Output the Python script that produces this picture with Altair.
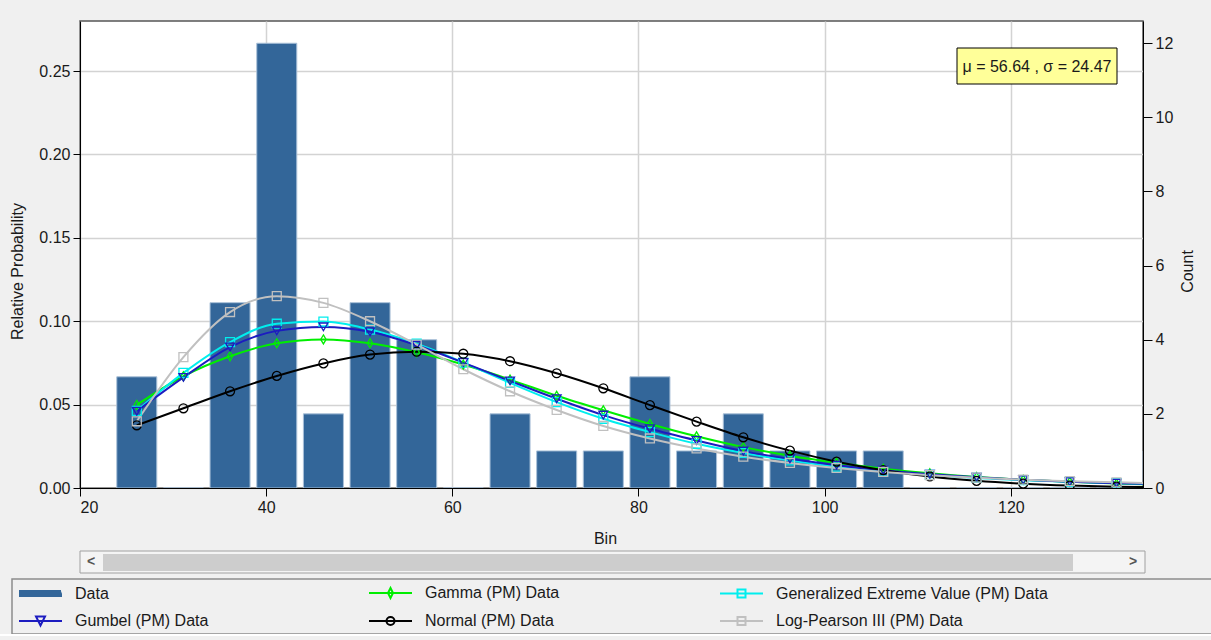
import altair as alt
import pandas as pd

# ---- histogram: bin centres (5-unit bins) and observation counts -------------
bin_centers = [26.10, 31.11, 36.12, 41.14, 46.15, 51.16, 56.17, 61.18, 66.20,
               71.21, 76.22, 81.23, 86.24, 91.26, 96.27, 101.28, 106.29, 111.30,
               116.32, 121.33, 126.34, 131.35, 136.36]
counts = [3, 0, 5, 12, 2, 5, 4, 0, 2, 1, 1, 3, 1, 2, 1, 1, 1, 0, 0, 0, 0, 0, 1]

# ---- fitted distributions (relative probability per bin) ---------------------
gamma_pm = [0.0498, 0.0670, 0.0790, 0.0868, 0.0891, 0.0868, 0.0814, 0.0740,
            0.0650, 0.0553, 0.0466, 0.0384, 0.0310, 0.0245, 0.0193, 0.0151,
            0.0116, 0.0088, 0.0066, 0.0050, 0.0037, 0.0027, 0.0020]
gev_pm = [0.0462, 0.0690, 0.0875, 0.0985, 0.0998, 0.0950, 0.0865, 0.0752,
          0.0630, 0.0515, 0.0415, 0.0335, 0.0265, 0.0210, 0.0165, 0.0128,
          0.0100, 0.0078, 0.0060, 0.0047, 0.0037, 0.0029, 0.0023]
gumbel_pm = [0.0460, 0.0663, 0.0845, 0.0942, 0.0966, 0.0937, 0.0856, 0.0752,
             0.0642, 0.0535, 0.0437, 0.0355, 0.0285, 0.0221, 0.0175, 0.0137,
             0.0106, 0.0082, 0.0064, 0.0049, 0.0038, 0.0029, 0.0023]
normal_pm = [0.0376, 0.0478, 0.0580, 0.0672, 0.0747, 0.0800, 0.0817, 0.0805,
             0.0760, 0.0688, 0.0598, 0.0497, 0.0398, 0.0304, 0.0224, 0.0158,
             0.0107, 0.0069, 0.0043, 0.0026, 0.0015, 0.0008, 0.0004]
lp3_pm = [0.0400, 0.0785, 0.1055, 0.1150, 0.1110, 0.1000, 0.0860, 0.0712,
          0.0580, 0.0468, 0.0372, 0.0297, 0.0237, 0.0188, 0.0150, 0.0120,
          0.0096, 0.0077, 0.0062, 0.0050, 0.0041, 0.0034, 0.0028]

series_names = ["Gamma (PM) Data", "Generalized Extreme Value (PM) Data",
                "Gumbel (PM) Data", "Normal (PM) Data", "Log-Pearson III (PM) Data"]
series_values = [gamma_pm, gev_pm, gumbel_pm, normal_pm, lp3_pm]

mu, sigma = 56.64, 24.47

x_ticks = [20, 40, 60, 80, 100, 120]
prob_ticks = [0.0, 0.05, 0.10, 0.15, 0.20, 0.25]
count_ticks = [0, 2, 4, 6, 8, 10, 12]

# ---- styling -------------------------------------------------------------------
FONT = "Liberation Sans"
TXT = "#1a1a1a"
BAR_COLOR = "#336699"
series_colors = ["#00ee00", "#00eeee", "#1c1cc0", "#000000", "#c0c0c0"]
diamond = "M0,-1L0.6,0L0,1L-0.6,0Z"
series_shapes = [diamond, "square", "triangle-down", "circle", "square"]

# legend glyphs: a short line with the marker in its middle (unit = 5 px)
LINE = "M-8.2,0H0.4"
legend_names = ["Data", "Gamma (PM) Data", "Generalized Extreme Value (PM) Data",
                "Gumbel (PM) Data", "Normal (PM) Data", "Log-Pearson III (PM) Data"]
legend_colors = [BAR_COLOR, "#00ee00", "#00eeee", "#1c1cc0", "#000000", "#c0c0c0"]
legend_paths = [
    "M-8.2,-0.5H0.2M-8.2,-0.17H0.3M-8.2,0.17H0.4M-8.2,0.5H0.4",
    LINE + "M-3.9,-1L-3.4,0L-3.9,1L-4.4,0Z",
    LINE + "M-4.7,-0.8H-3.1V0.8H-4.7Z",
    LINE + "M-4.8,-0.9H-3.0L-3.9,0.9Z",
    LINE + "M-3.1,0A0.8,0.8,0,1,1,-4.7,0A0.8,0.8,0,1,1,-3.1,0Z",
    LINE + "M-4.7,-0.8H-3.1V0.8H-4.7Z",
]

W, H = 1063, 467
half_width = 2.15

# ---- tables ------------------------------------------------------------------
bars_df = pd.DataFrame({
    "lo": [c - half_width for c in bin_centers],
    "hi": [c + half_width for c in bin_centers],
    "count": counts,
})
curves_df = pd.DataFrame([
    {"bin": b, "prob": p, "series": name}
    for name, vals in zip(series_names, series_values)
    for b, p in zip(bin_centers, vals)
])
legend_df = pd.DataFrame({"entry": legend_names})
one = pd.DataFrame({"k": [0]})

x_scale = alt.Scale(domain=[20, 134.2], nice=False, zero=False)
x_axis = alt.Axis(values=x_ticks, title="Bin", grid=True, tickSize=8,
                  labelPadding=3, titleX=525, titleY=50,
                  titleBaseline="middle", titleAlign="center")
prob_scale = alt.Scale(domain=[0, 0.28], nice=False)
color_scale = alt.Scale(domain=series_names, range=series_colors)


def xq(field):
    return alt.X(f"{field}:Q", scale=x_scale, axis=x_axis)


bars = alt.Chart(bars_df).mark_bar(
    color=BAR_COLOR, stroke="#a9c0d8", strokeWidth=1, clip=True
).encode(
    x=xq("lo"),
    x2="hi:Q",
    y=alt.Y("count:Q", scale=alt.Scale(domain=[0, 12.6], nice=False),
            axis=alt.Axis(orient="right", values=count_ticks, grid=False,
                          title="Count", tickSize=9, labelPadding=3,
                          titleAngle=270, titleX=44, titleY=250,
                          titleAlign="center", titleBaseline="middle")),
    y2=alt.datum(0),
)

lines = alt.Chart(curves_df).mark_line(
    strokeWidth=2, interpolate="monotone", clip=True
).encode(
    x=xq("bin"),
    y=alt.Y("prob:Q", scale=prob_scale,
            axis=alt.Axis(values=prob_ticks, format=".2f", grid=True,
                          title="Relative Probability", tickSize=7,
                          labelPadding=3, titleAngle=270, titleX=-63,
                          titleY=250, titleAlign="center",
                          titleBaseline="middle")),
    color=alt.Color("series:N", scale=color_scale, legend=None),
)

points = alt.Chart(curves_df).mark_point(
    filled=False, size=80, strokeWidth=1.3, opacity=1, clip=True
).encode(
    x=xq("bin"),
    y=alt.Y("prob:Q", scale=prob_scale, axis=None),
    color=alt.Color("series:N", scale=color_scale, legend=None),
    shape=alt.Shape("series:N",
                    scale=alt.Scale(domain=series_names, range=series_shapes),
                    legend=None),
)

legend_spec = alt.Legend(
    title=None, orient="none", legendX=-28, legendY=564, direction="horizontal",
    columns=3, columnPadding=156, rowPadding=10, symbolSize=100,
    symbolStrokeWidth=2, symbolOpacity=1, labelFont=FONT, labelFontSize=16,
    labelColor=TXT, labelOffset=7, labelLimit=400,
)
legend_layer = alt.Chart(legend_df).mark_point(
    filled=False, size=100, strokeWidth=2, opacity=1
).encode(
    x=alt.value(-5000),
    y=alt.value(-5000),
    color=alt.Color("entry:N",
                    scale=alt.Scale(domain=legend_names, range=legend_colors),
                    legend=legend_spec),
    shape=alt.Shape("entry:N",
                    scale=alt.Scale(domain=legend_names, range=legend_paths),
                    legend=legend_spec),
)

# statistics box in the upper right
stat_box = alt.Chart(one).mark_rect(
    fill="#ffff99", stroke="#000000", strokeWidth=1
).encode(x=alt.value(877), x2=alt.value(1037), y=alt.value(27), y2=alt.value(63))
stat_text = alt.Chart(one).mark_text(
    text=f"\u03bc = {mu:.2f} , \u03c3 = {sigma:.2f}", font=FONT, fontSize=16,
    color=TXT, align="center", baseline="middle"
).encode(x=alt.value(957), y=alt.value(46))

# horizontal scroll bar under the axis
scroll_track = alt.Chart(one).mark_rect(
    fill="#f4f4f4", stroke="#a0a0a0", strokeWidth=1
).encode(x=alt.value(0), x2=alt.value(1065), y=alt.value(530), y2=alt.value(552))
scroll_thumb = alt.Chart(one).mark_rect(fill="#cdcdcd").encode(
    x=alt.value(23), x2=alt.value(993), y=alt.value(533), y2=alt.value(550))
scroll_left = alt.Chart(one).mark_text(
    text="<", font=FONT, fontSize=14, fontWeight="bold", color="#555555",
    align="center", baseline="middle"
).encode(x=alt.value(11), y=alt.value(541))
scroll_right = alt.Chart(one).mark_text(
    text=">", font=FONT, fontSize=14, fontWeight="bold", color="#555555",
    align="center", baseline="middle"
).encode(x=alt.value(1053), y=alt.value(541))

# frame around the legend
legend_frame = alt.Chart(one).mark_rect(
    fill="#f0f0f0", stroke="#8c8c8c", strokeWidth=1.5
).encode(x=alt.value(-68), x2=alt.value(1140), y=alt.value(558), y2=alt.value(613))
legend_edge = alt.Chart(one).mark_rule(color="#ffffff", strokeWidth=2).encode(
    x=alt.value(-80), x2=alt.value(1131), y=alt.value(614))

chart = alt.layer(
    bars, lines, points, legend_layer, stat_box, stat_text,
    scroll_track, scroll_thumb, scroll_left, scroll_right,
    legend_frame, legend_edge,
).resolve_scale(
    y="independent", color="independent", shape="independent"
).properties(
    width=W, height=H,
    autosize=alt.AutoSizeParams(type="none"),
    padding={"left": 80, "top": 21, "right": 68, "bottom": 152},
).configure(
    background="#f0f0f0", font=FONT,
).configure_view(
    fill="white", stroke="#555555", strokeWidth=1.5,
).configure_axis(
    labelFont=FONT, labelFontSize=16, labelColor=TXT,
    titleFont=FONT, titleFontSize=16, titleFontWeight="normal", titleColor=TXT,
    domainColor="#000000", domainWidth=1, tickColor="#000000",
    gridColor="#d3d3d3", gridWidth=1.5,
)

chart.save("out.html", embed_options={"renderer": "svg", "actions": False})
